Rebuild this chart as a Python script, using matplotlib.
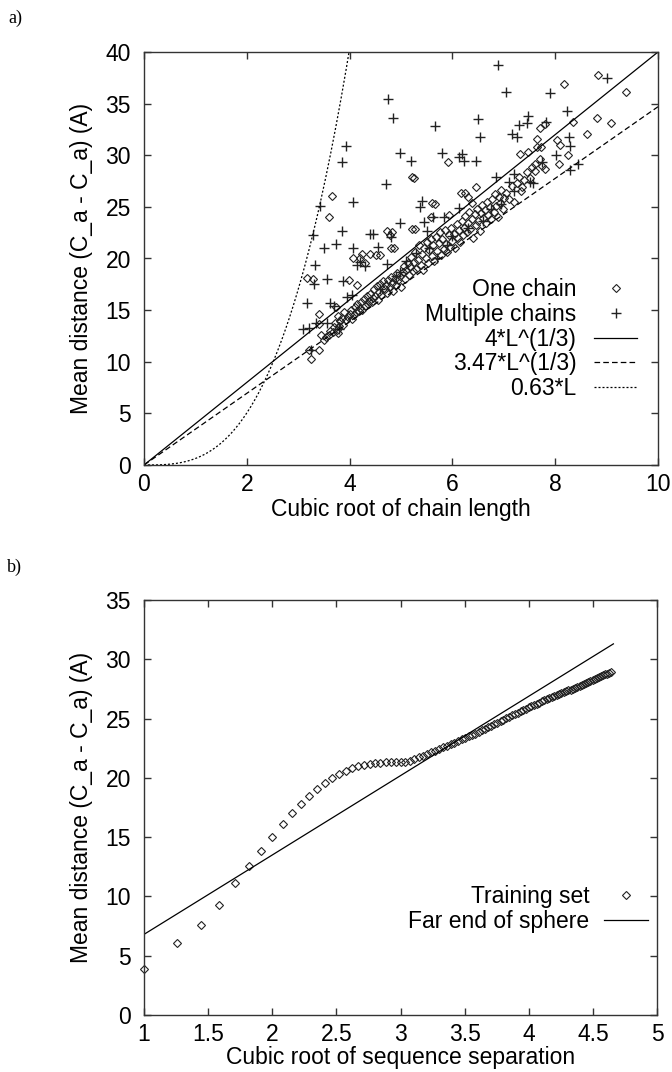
import numpy as np
import matplotlib
matplotlib.use("Agg")
import matplotlib.pyplot as plt

plt.rcParams['font.family'] = ['Liberation Sans', 'DejaVu Sans']

# ---------------- Panel a) data ----------------
one_chain_x = [3.17, 3.28, 3.40, 3.59, 3.66, 3.73, 3.77, 3.99, 4.06, 4.15, 4.20, 4.25, 4.30, 4.39, 4.52,
               4.60, 4.73, 4.79, 4.81, 4.83, 4.87, 5.22, 5.22, 5.25, 5.28, 5.58, 5.60, 5.66, 5.91, 5.93,
               6.17, 6.25, 6.30, 6.46, 6.39, 7.31, 7.34, 7.48, 7.61, 7.64, 7.65, 7.72, 7.70, 7.80, 7.80,
               8.03, 8.07, 8.10, 8.18, 8.25, 8.35, 8.61, 8.81, 8.84, 9.09, 9.37,
               3.21, 3.24, 3.40, 3.40, 3.45, 3.50, 3.55, 3.60, 3.62, 3.68, 3.70, 3.71, 3.75, 3.78, 3.80,
               3.82, 3.85, 3.88, 3.90, 3.93, 3.96, 4.00, 4.02, 4.05, 4.08, 4.10, 4.12, 4.15, 4.18, 4.20,
               4.22, 4.25, 4.28, 4.30, 4.33, 4.35, 4.38, 4.40, 4.43, 4.45, 4.48, 4.50, 4.53, 4.55, 4.58,
               4.60, 4.62, 4.65, 4.68, 4.70, 4.72, 4.75, 4.78, 4.80, 4.82, 4.85, 4.88, 4.90, 4.93, 4.95,
               4.98, 5.00, 5.03, 5.05, 5.08, 5.10, 5.13, 5.15, 5.18, 5.20, 5.23, 5.25, 5.28, 5.30, 5.33,
               5.35, 5.38, 5.40, 5.43, 5.45, 5.48, 5.50, 5.53, 5.55, 5.58, 5.60, 5.63, 5.65, 5.68, 5.70,
               5.73, 5.75, 5.78, 5.80, 5.83, 5.85, 5.88, 5.90, 5.93, 5.95, 5.98, 6.00, 6.03, 6.05, 6.08,
               6.10, 6.13, 6.15, 6.18, 6.20, 6.23, 6.25, 6.28, 6.30, 6.33, 6.35, 6.38, 6.40, 6.43, 6.45,
               6.48, 6.50, 6.53, 6.55, 6.58, 6.60, 6.63, 6.65, 6.68, 6.70, 6.73, 6.75, 6.78, 6.80, 6.83,
               6.85, 6.88, 6.90, 6.93, 6.95, 6.98, 7.00, 7.05, 7.10, 7.15, 7.20, 7.25, 7.30, 7.35, 7.40,
               7.45, 7.50, 7.55, 7.60, 7.70, 7.75]
one_chain_y = [18.1, 18.0, 14.6, 24.0, 26.1, 15.3, 14.4, 17.9, 20.0, 17.4, 20.0, 20.4, 19.6, 20.4, 20.3,
               20.3, 22.7, 22.3, 21.0, 22.6, 21.0, 22.9, 27.9, 27.8, 22.9, 24.0, 25.4, 25.3, 29.3, 24.2,
               26.3, 26.3, 26.0, 26.9, 25.4, 30.1, 26.5, 30.3, 28.5, 31.6, 30.8, 30.8, 32.6, 33.0, 28.7,
               31.5, 29.2, 31.0, 36.9, 30.0, 33.2, 32.1, 33.6, 37.8, 33.1, 36.1,
               11.1, 10.3, 11.1, 13.7, 12.6, 12.1, 12.4, 12.6, 13.0, 12.9, 13.4, 13.8, 13.1, 12.8, 13.5,
               13.9, 14.2, 13.6, 14.8, 14.0, 14.3, 14.6, 15.0, 14.1, 14.5, 15.3, 14.8, 15.6, 14.9, 15.2,
               15.8, 15.0, 16.1, 15.4, 16.4, 15.6, 15.9, 16.6, 15.8, 16.2, 17.0, 16.4, 17.3, 16.0, 16.8,
               17.5, 16.5, 17.8, 17.0, 17.4, 16.7, 17.9, 17.2, 18.2, 17.6, 16.9, 18.0, 17.4, 18.6, 17.9,
               18.3, 17.2, 18.7, 19.3, 18.0, 18.9, 19.6, 18.4, 19.2, 20.1, 18.8, 19.7, 20.6, 19.0, 19.9,
               21.3, 19.4, 20.4, 18.9, 21.0, 20.0, 21.6, 19.6, 20.8, 21.9, 20.2, 21.3, 19.8, 22.1, 20.7,
               21.5, 22.6, 20.3, 21.9, 20.9, 22.8, 21.4, 20.6, 22.3, 21.1, 23.0, 21.7, 22.4, 21.0, 23.3,
               22.0, 22.8, 21.6, 23.6, 22.3, 23.0, 24.1, 22.6, 23.4, 24.5, 22.9, 23.8, 22.0, 24.3, 23.2,
               24.8, 23.6, 22.7, 24.4, 25.2, 23.9, 24.7, 23.4, 25.5, 24.2, 25.0, 23.8, 25.8, 24.5, 26.2,
               25.1, 24.0, 26.0, 25.4, 26.6, 24.8, 25.9, 26.3, 25.8, 27.0, 25.5, 27.3, 27.9, 26.9, 27.6,
               28.4, 27.8, 28.9, 29.2, 29.6, 29.0]

multi_x = [3.10, 3.18, 3.21, 3.25, 3.28, 3.30, 3.32, 3.35, 3.42, 3.50, 3.56, 3.57, 3.62, 3.70, 3.74,
           3.80, 3.85, 3.85, 3.88, 3.93, 3.95, 4.05, 4.06, 4.07, 4.15, 4.20, 4.30, 4.40, 4.45, 4.55,
           4.60, 4.70, 4.75, 4.72, 4.80, 4.85, 4.90, 4.98, 4.99, 4.98, 5.10, 5.20, 5.30, 5.36, 5.40,
           5.45, 5.50, 5.55, 5.63, 5.67, 5.70, 5.79, 5.83, 5.90, 6.00, 6.12, 6.12, 6.18, 6.22, 6.30,
           6.46, 6.49, 6.54, 6.60, 6.75, 6.84, 6.89, 6.95, 7.04, 7.10, 7.15, 7.20, 7.20, 7.26, 7.30,
           7.46, 7.48, 7.50, 7.57, 7.75, 7.83, 7.89, 8.02, 8.22, 8.26, 8.28, 8.28, 8.45, 9.00]
multi_y = [13.2, 15.7, 13.3, 11.1, 22.3, 17.5, 19.4, 13.8, 25.1, 21.0, 13.8, 18.0, 15.7, 15.4, 21.4,
           13.2, 22.7, 29.3, 17.8, 30.9, 16.3, 16.5, 21.0, 25.5, 19.4, 19.7, 19.3, 22.4, 22.4, 21.1,
           17.0, 27.2, 35.4, 19.5, 22.1, 33.6, 18.3, 30.2, 23.4, 18.7, 19.8, 29.4, 20.5, 25.0, 25.6,
           23.5, 22.7, 21.0, 24.0, 32.8, 20.0, 30.2, 24.0, 21.3, 22.2, 24.9, 29.8, 30.1, 29.4, 23.0,
           29.4, 33.5, 31.8, 23.6, 24.8, 27.9, 38.7, 25.3, 36.1, 27.4, 32.1, 28.2, 26.5, 31.8, 32.9,
           33.1, 33.8, 27.4, 27.3, 29.3, 33.2, 36.0, 30.0, 34.3, 31.8, 30.9, 28.6, 29.2, 37.5]

model_labels = ["4*L^(1/3)", "3.47*L^(1/3)", "0.63*L"]
model_coef = [4.0, 3.47, 0.63]
model_power = [1, 1, 3]  # power of the cubic root (x) in each model
model_styles = ["-", (0, (4.5, 2.5)), (0, (1.6, 1.6))]

# ---------------- Panel b) data ----------------
separation = list(range(1, 101))
training_mean = [3.85, 6.04, 7.59, 9.28, 11.12, 12.6, 13.8, 15.04, 16.1, 17.0,
                 17.77, 18.5, 19.06, 19.54, 19.96, 20.3, 20.58, 20.8, 21.0, 21.08,
                 21.17, 21.23, 21.28, 21.3, 21.3, 21.3, 21.32, 21.36, 21.44, 21.57,
                 21.72, 21.86, 22.0, 22.15, 22.3, 22.45, 22.58, 22.72, 22.85, 22.98,
                 23.11, 23.24, 23.36, 23.49, 23.61, 23.74, 23.87, 24.0, 24.13, 24.26,
                 24.39, 24.52, 24.65, 24.78, 24.91, 25.03, 25.15, 25.27, 25.39, 25.5,
                 25.61, 25.72, 25.83, 25.94, 26.04, 26.14, 26.24, 26.34, 26.44, 26.53,
                 26.62, 26.71, 26.8, 26.89, 26.97, 27.05, 27.13, 27.21, 27.29, 27.37,
                 27.45, 27.53, 27.61, 27.69, 27.77, 27.85, 27.93, 28.01, 28.09, 28.17,
                 28.25, 28.33, 28.41, 28.49, 28.57, 28.65, 28.72, 28.79, 28.85, 28.9]
sphere_x = [1.0, 4.66]
sphere_y = [6.8, 31.3]

# ---------------- Figure ----------------
W, H = 672, 1072
fig = plt.figure(figsize=(W / 100, H / 100), dpi=100)
ax1 = fig.add_axes([144 / W, 1 - 465 / H, 514 / W, 413 / H])
ax2 = fig.add_axes([144 / W, 1 - 1015 / H, 513 / W, 415 / H])

FS = 16.5
ink = '#222222'

def style_axes(ax):
    for s in ax.spines.values():
        s.set_color('#333333')
        s.set_linewidth(1.0)
    ax.tick_params(direction='in', top=True, right=True, length=5, width=1.0,
                   color='#333333', labelsize=FS)
    ax.tick_params(axis='y', pad=9.5)
    ax.tick_params(axis='x', pad=6)

# Panel a
ax1.plot(one_chain_x, one_chain_y, linestyle='none', marker='D', markersize=4.0,
         mfc='none', mec=ink, mew=0.8, label='One chain')
ax1.plot(multi_x, multi_y, linestyle='none', marker='+', markersize=6.5,
         color=ink, mew=1.0, label='Multiple chains')
xs = np.linspace(0, 10, 400)
for lab, c, p, ls in zip(model_labels, model_coef, model_power, model_styles):
    ax1.plot(xs, c * xs ** p, color='black', lw=0.9, linestyle=ls, label=lab)
ax1.set_xlim(0, 10)
ax1.set_ylim(0, 40)
ax1.set_xticks(np.arange(0, 11, 2))
ax1.set_yticks(np.arange(0, 41, 5))
ax1.set_xlabel('Cubic root of chain length', fontsize=FS, labelpad=1)
ax1.set_ylabel('Mean distance (C_a - C_a) (A)', fontsize=FS, labelpad=9)
style_axes(ax1)
ax1.legend(loc='center right', bbox_to_anchor=(0.96, 0.305), frameon=False,
           markerfirst=False, fontsize=FS, handlelength=1.9, handletextpad=0.75,
           labelspacing=0.07, borderpad=0, borderaxespad=0)

# Panel b
cube_root_sep = np.cbrt(np.array(separation, dtype=float))
ax2.plot(cube_root_sep, training_mean, linestyle='none', marker='D', markersize=4.0,
         mfc='none', mec=ink, mew=0.8, label='Training set', clip_on=False)
ax2.plot(sphere_x, sphere_y, color='black', lw=0.9, label='Far end of sphere')
ax2.set_xlim(1, 5)
ax2.set_ylim(0, 35)
ax2.set_xticks(np.arange(1, 5.01, 0.5))
ax2.set_xticklabels(['1', '1.5', '2', '2.5', '3', '3.5', '4', '4.5', '5'])
ax2.set_yticks(np.arange(0, 36, 5))
ax2.set_xlabel('Cubic root of sequence separation', fontsize=FS, labelpad=0)
ax2.set_ylabel('Mean distance (C_a - C_a) (A)', fontsize=FS, labelpad=9)
style_axes(ax2)
ax2.legend(loc='center right', bbox_to_anchor=(0.982, 0.255), frameon=False,
           markerfirst=False, fontsize=FS, handlelength=1.9, handletextpad=0.65,
           labelspacing=0.1, borderpad=0, borderaxespad=0)

fig.text(8 / W, 1 - 18 / H, 'a)', family='Liberation Serif', fontsize=13, va='center', ha='left')
fig.text(7 / W, 1 - 567 / H, 'b)', family='Liberation Serif', fontsize=13, va='center', ha='left')

fig.savefig('out.png', dpi=100)
